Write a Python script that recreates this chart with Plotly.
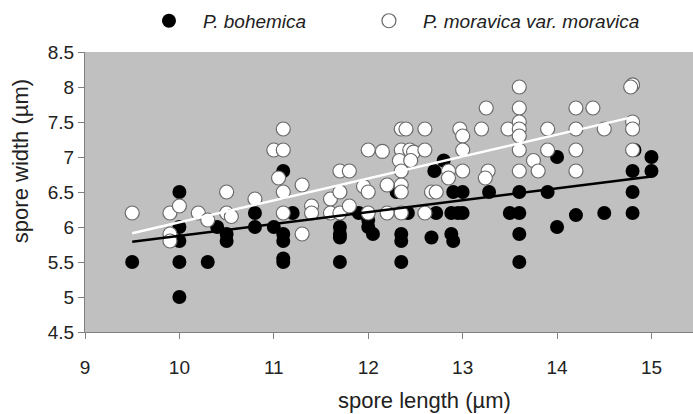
import plotly.graph_objects as go

# P. bohemica (black points)
bohemica_length = [9.5, 10, 10, 10, 10, 10, 10.3, 10.4, 10.5, 10.5, 10.8, 10.8, 11.0, 11.1, 11.1, 11.1, 11.1, 11.1,
                   11.2, 11.7, 11.7, 11.7, 11.7, 11.7, 11.9, 12.0, 12.0, 12.05, 12.3, 12.35, 12.35, 12.35, 12.35,
                   12.42, 12.67, 12.72, 12.7, 12.8, 12.9, 13.0, 12.88, 12.95, 13.0, 12.88, 12.9, 13.28, 13.5, 13.6,
                   13.6, 13.6, 13.6, 13.9, 14.0, 14.0, 14.2, 14.5, 14.82, 14.8, 14.8, 14.8, 15.0, 15.0]
bohemica_width = [5.5, 6.5, 6.0, 5.8, 5.5, 5.0, 5.5, 6.0, 5.9, 5.8, 6.2, 6.0, 6.0, 6.8, 5.9, 5.8, 5.55, 5.5,
                  6.2, 6.5, 6.0, 5.9, 5.85, 5.5, 6.2, 6.1, 6.0, 5.9, 6.5, 6.2, 5.9, 5.8, 5.5,
                  6.2, 5.85, 6.2, 6.8, 6.95, 6.5, 6.5, 6.2, 6.2, 6.2, 5.9, 5.8, 6.5, 6.2, 6.2,
                  6.5, 5.9, 5.5, 6.5, 7.0, 6.0, 6.17, 6.2, 7.1, 6.8, 6.5, 6.2, 7.0, 6.8]

# P. moravica var. moravica (white points)
moravica_length = [9.5, 9.9, 10, 9.9, 9.9, 10.2, 10.3, 10.5, 10.5, 10.55, 10.8, 11.0, 11.1, 11.1, 11.05, 11.1,
                   11.1, 11.3, 11.3, 11.4, 11.4, 11.6, 11.6, 11.7, 11.8, 11.7, 11.7, 11.8, 12.0, 12.15, 11.95,
                   12.0, 12.0, 12.2, 12.2, 12.35, 12.4, 12.35, 12.44, 12.48, 12.33, 12.45, 12.35, 12.35, 12.35,
                   12.35, 12.6, 12.6, 12.67, 12.72, 12.6, 12.85, 12.85, 12.97, 13.0, 13.0, 13.0, 13.25, 13.2,
                   13.27, 13.24, 13.48, 13.6, 13.6, 13.6, 13.6, 13.6, 13.6, 13.6, 13.75, 13.8, 13.9, 13.9, 14.2,
                   14.38, 14.2, 14.2, 14.2, 14.5, 14.8, 14.78, 14.8, 14.8, 14.8]
moravica_width = [6.2, 6.2, 6.3, 5.9, 5.8, 6.2, 6.1, 6.5, 6.2, 6.15, 6.4, 7.1, 7.1, 7.4, 6.7, 6.5,
                  6.2, 6.6, 5.9, 6.3, 6.2, 6.4, 6.2, 6.8, 6.8, 6.5, 6.2, 6.3, 7.1, 7.08, 6.58,
                  6.5, 6.2, 6.6, 6.2, 7.4, 7.4, 7.1, 7.1, 7.07, 6.95, 6.95, 6.8, 6.6, 6.5,
                  6.2, 7.4, 7.1, 6.5, 6.5, 6.2, 6.8, 6.7, 7.4, 7.3, 7.1, 6.8, 7.7, 7.4,
                  6.8, 6.7, 7.4, 8.0, 7.7, 7.5, 7.4, 7.3, 7.1, 6.8, 6.95, 6.8, 7.4, 7.1, 7.7,
                  7.7, 7.4, 7.1, 6.8, 7.4, 8.03, 8.0, 7.5, 7.4, 7.1]

# Trend lines (end values)
bohemica_trend_x = [9.5, 15.0]
bohemica_trend_y = [5.79, 6.72]
moravica_trend_x = [9.5, 14.8]
moravica_trend_y = [5.91, 7.57]

x_ticks = [9, 10, 11, 12, 13, 14, 15]
y_ticks = [4.5, 5, 5.5, 6, 6.5, 7, 7.5, 8, 8.5]

FONT = "Liberation Sans, Arial, sans-serif"

fig = go.Figure()
fig.add_trace(go.Scatter(x=bohemica_length, y=bohemica_width, mode="markers",
                         name="<i>P. bohemica</i>", legend="legend",
                         marker=dict(size=14, color="black", line=dict(width=0))))
fig.add_trace(go.Scatter(x=moravica_length, y=moravica_width, mode="markers",
                         name="<i>P. moravica var. moravica</i>", legend="legend2",
                         marker=dict(size=14, color="white", line=dict(width=1.2, color="#6a6a6a"))))
fig.add_trace(go.Scatter(x=bohemica_trend_x, y=bohemica_trend_y, mode="lines", showlegend=False,
                         line=dict(color="black", width=2.5)))
fig.add_trace(go.Scatter(x=moravica_trend_x, y=moravica_trend_y, mode="lines", showlegend=False,
                         line=dict(color="white", width=2.5)))

axis_common = dict(showgrid=False, zeroline=False, showline=True, linecolor="#808080", linewidth=1,
                   ticks="outside", ticklen=6, tickcolor="#808080",
                   tickfont=dict(family=FONT, size=19, color="#222222"))

legend_common = dict(orientation="h", xanchor="left", y=1.179, yanchor="top",
                     font=dict(family=FONT, size=19, color="#222222"),
                     itemwidth=58, bgcolor="rgba(0,0,0,0)")

fig.update_layout(
    width=693, height=414,
    margin=dict(l=85, r=0, t=52, b=82),
    paper_bgcolor="white", plot_bgcolor="#c0c0c0",
    font=dict(family=FONT, color="#222222"),
    xaxis=dict(range=[9, 15.44], tickvals=x_ticks, ticklabelstandoff=12, **axis_common),
    yaxis=dict(range=[4.5, 8.5], tickvals=y_ticks, **axis_common),
    legend=dict(x=0.0822, **legend_common),
    legend2=dict(x=0.444, **legend_common),
    annotations=[
        dict(text="spore length (µm)", xref="paper", yref="paper", x=0.5576, y=-0.243,
             xanchor="center", yanchor="middle", showarrow=False,
             font=dict(family=FONT, size=22, color="#222222")),
        dict(text="spore width (µm)", xref="paper", yref="paper", x=-0.107, y=0.61,
             xanchor="center", yanchor="middle", showarrow=False, textangle=-90,
             font=dict(family=FONT, size=22, color="#222222")),
    ],
)

fig.write_html("out.html",
               config={"displayModeBar": False},
               post_script="document.body.style.margin='0';document.body.style.overflow='hidden';")
